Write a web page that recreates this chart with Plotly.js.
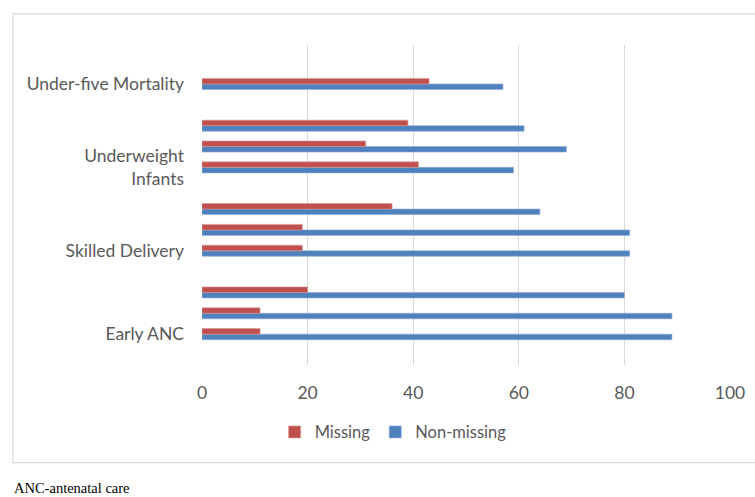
<!DOCTYPE html>
<html>
<head>
<meta charset="utf-8">
<script src="https://cdn.plot.ly/plotly-3.0.1.min.js"></script>
<style>html,body{margin:0;padding:0;background:#fff;}</style>
</head>
<body>
<div id="chart" style="width:755px;height:497px;"></div>
<script>
// Rows from bottom to top (blank rows separate the groups)
const rows = ['Early ANC', 'Early ANC 2', 'Early ANC 3', 'gap 1',
              'Skilled Delivery', 'Skilled Delivery 2', 'Skilled Delivery 3', 'gap 2',
              'Underweight Infants', 'Underweight Infants 2', 'Underweight Infants 3', 'gap 3',
              'Under-five Mortality'];
const missing    = [11, 11, 20, null, 19, 19, 36, null, 41, 31, 39, null, 43];
const nonMissing = [89, 89, 80, null, 81, 81, 64, null, 59, 69, 61, null, 57];
const tickRows   = ['Early ANC', 'Skilled Delivery', 'Underweight Infants', 'Under-five Mortality'];
const tickLabels = ['Early ANC', 'Skilled Delivery', 'Underweight<br>Infants', 'Under-five Mortality'];
const xTicks     = [0, 20, 40, 60, 80, 100];
const caption    = 'ANC-antenatal care';

const gray = '#595959';
const traces = [
  {type: 'bar', orientation: 'h', name: 'Non-missing', y: rows, x: nonMissing,
   marker: {color: '#4F81BD', line: {color: '#8EAADB', width: 0.6}}, legendrank: 2, hoverinfo: 'x'},
  {type: 'bar', orientation: 'h', name: 'Missing', y: rows, x: missing,
   marker: {color: '#C0504D', line: {color: '#D99694', width: 0.6}}, legendrank: 1, hoverinfo: 'x'}
];

const layout = {
  width: 755, height: 497,
  margin: {l: 202, r: 25, t: 45, b: 132},
  paper_bgcolor: '#ffffff', plot_bgcolor: '#ffffff',
  font: {family: 'Lato, "Open Sans", sans-serif', size: 17.5, color: gray},
  barmode: 'group', bargap: 0.47, bargroupgap: 0,
  showlegend: true,
  legend: {orientation: 'h', x: 0.362, xanchor: 'center', y: -0.21, yanchor: 'middle',
           font: {size: 16.5, color: gray}, itemwidth: 30, traceorder: 'normal'},
  xaxis: {range: [0, 100], tickvals: xTicks, showgrid: true, gridcolor: '#D9D9D9', gridwidth: 1,
          zeroline: false, showline: false, ticks: '', ticklabelstandoff: 15, fixedrange: true},
  yaxis: {type: 'category', categoryorder: 'array', categoryarray: rows,
          range: [-1.48, 13.87], tickvals: tickRows, ticktext: tickLabels,
          showgrid: false, zeroline: false, showline: false, ticks: '', ticklabelstandoff: 17, fixedrange: true},
  shapes: [{type: 'rect', xref: 'paper', yref: 'paper',
            x0: -0.358, x1: 1.08, y0: -0.305, y1: 1.097,
            line: {color: '#D9D9D9', width: 1.2}, fillcolor: 'rgba(0,0,0,0)', layer: 'below'}],
  annotations: [{text: caption, xref: 'paper', yref: 'paper', x: -0.36, xanchor: 'left',
                 y: -0.384, yanchor: 'middle', showarrow: false,
                 font: {family: '"Liberation Serif", "Times New Roman", serif', size: 14.5, color: '#000000'}}]
};

Plotly.newPlot('chart', traces, layout, {displayModeBar: false, staticPlot: true});
</script>
</body>
</html>
